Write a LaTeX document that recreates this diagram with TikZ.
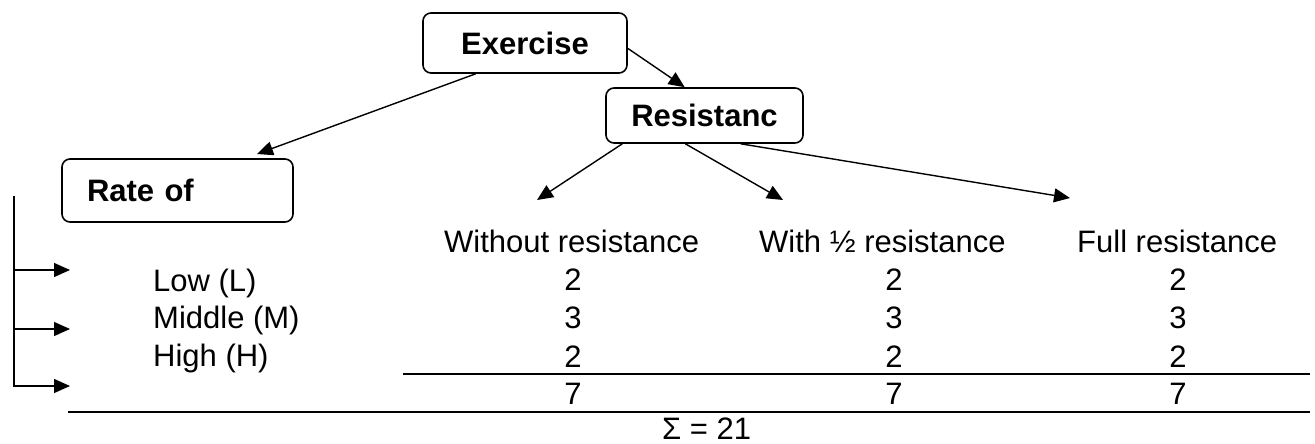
\documentclass[tikz,border=0pt]{standalone}
\usepackage{fontspec}
\setmainfont{Liberation Sans}
\usetikzlibrary{arrows.meta}

\newcommand{\tabfont}{\fontsize{31}{37}\selectfont}

\tikzset{
  box/.style={draw, line width=1.6pt, rounded corners=8pt, font=\tabfont\bfseries, inner sep=0pt},
  conn/.style={line width=1.4pt, -{Triangle[length=16pt,width=14pt]}},
  rule/.style={line width=2pt},
  cell/.style={inner sep=0pt, anchor=base},
  lbl/.style={inner sep=0pt, anchor=base west},
}

\begin{document}
\begin{tikzpicture}[x=1pt,y=-1pt,font=\tabfont]
    \useasboundingbox (0,0) rectangle (1315,444);

    % boxes
    \node[box, minimum width=204pt, minimum height=60pt] (ex) at (525,43) {Exercise};
    \node[box, minimum width=197pt, minimum height=55pt] (res) at (704.5,115.5) {Resistanc};
    \node[box, minimum height=63pt, text width=181pt, inner xsep=25pt, align=left] (rate) at (177.5,190.5) {Rate of};

    % free ends of the arrows
    \coordinate (tipRate) at (257,154);
    \coordinate (tipWo) at (537,200);
    \coordinate (tipHalf) at (783,200);
    \coordinate (tipFull) at (1070,198);

    \draw[conn] (ex.212.6) -- (tipRate);
    \draw[conn] (ex.357.8) -- (res.125.3);
    \draw[conn] (res.199.5) -- (tipWo);
    \draw[conn] (res.236) -- (tipHalf);
    \draw[conn] (res.322) -- (tipFull);

    % bracket with the three row arrows
    \coordinate (brTop) at (14,196);
    \coordinate (brL) at (70,270);
    \coordinate (brM) at (70,329);
    \coordinate (brH) at (70,386);
    \draw[conn] (brTop) |- (brH);
    \draw[conn] (brTop |- brL) -- (brL);
    \draw[conn] (brTop |- brM) -- (brM);

    % rows and columns
    \node[lbl] (low) at (153,291) {Low (L)};
    \node[lbl] (mid) at (153,328) {Middle (M)};
    \node[lbl] (high) at (153,366) {High (H)};

    \node[lbl] (hWo) at (444,252) {Without resistance};
    \node[lbl] (hHalf) at (759,252) {With ½ resistance};
    \node[lbl] (hFull) at (1077,252) {Full resistance};

    \foreach \c/\x in {1/573,2/894,3/1178}{
      \foreach \v/\y [count=\r] in {2/290,3/328,2/367,7/404}
        \node[cell] (v\c\r) at (\x,\y) {\v};
    }

    \draw[rule] (403,374) -- (1310,374);
    \draw[rule] (68,412) -- (1310,412);
    \node[lbl] (sum) at (662,439) {Σ = 21};
\end{tikzpicture}
\end{document}
